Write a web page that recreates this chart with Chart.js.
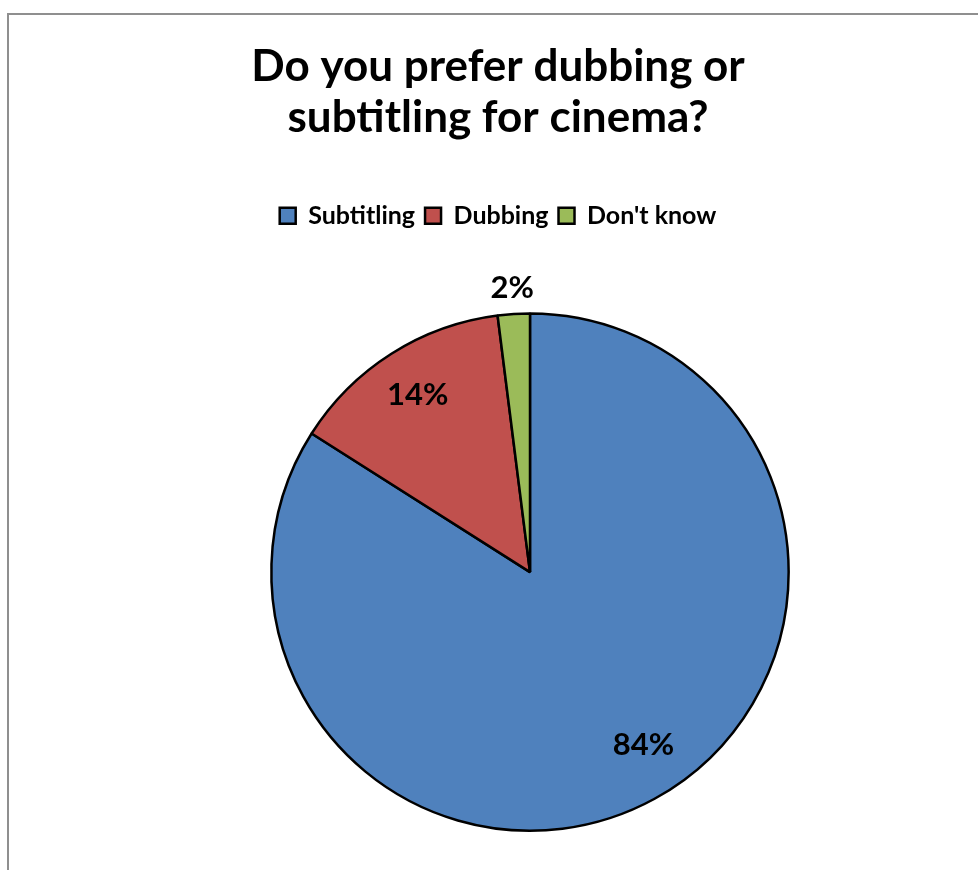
<!DOCTYPE html>
<html>
<head>
<meta charset="utf-8">
<title>Dubbing or subtitling</title>
<script src="https://cdn.jsdelivr.net/npm/chart.js@4.4.0/dist/chart.umd.min.js"></script>
<style>
    html, body { margin: 0; padding: 0; background: #fff; overflow: hidden; }
    .frame {
        position: absolute; left: 7px; top: 13px;
        width: 1000px; height: 900px;
        border: 2px solid #8f8f8f;
    }
    .wrap { position: absolute; left: 0; top: 0; width: 978px; height: 870px; }
</style>
</head>
<body>
<div class="frame"></div>
<div class="wrap"><canvas id="chart"></canvas></div>
<script>
var categories = ["Subtitling", "Dubbing", "Don't know"];
var shares = [84, 14, 2];
var colors = ["#4F81BD", "#C0504D", "#9BBB59"];
var titleLines = ["Do you prefer dubbing or", "subtitling for cinema?"];

var FONT = "Lato, 'Open Sans', sans-serif";

// moves the pie right / down inside the frame, away from title and legend
const pieArea = {
    id: 'pieArea',
    afterLayout(chart) {
        let a = chart.chartArea;
        a.left += 64;
        a.top += 74;
        a.width = a.right - a.left;
        a.height = a.bottom - a.top;
    }
};

// percentage labels; the small slice gets its label outside the pie
const sliceLabels = {
    id: 'sliceLabels',
    afterDatasetsDraw(chart, args, opts) {
        let ctx = chart.ctx;
        let meta = chart.getDatasetMeta(0);
        ctx.save();
        ctx.font = "bold 31px " + FONT;
        ctx.fillStyle = "#000";
        ctx.textAlign = "center";
        ctx.textBaseline = "middle";
        meta.data.forEach(function (arc, i) {
            let mid = (arc.startAngle + arc.endAngle) / 2 + opts.turn[i];
            let r = arc.outerRadius * opts.factors[i];
            ctx.fillText(shares[i] + "%", arc.x + Math.cos(mid) * r, arc.y + Math.sin(mid) * r);
        });
        ctx.restore();
    }
};

new Chart(document.getElementById("chart"), {
    type: 'pie',
    data: {
        labels: categories,
        datasets: [
            {
                data: shares,
                backgroundColor: colors,
                borderColor: "#000",
                borderWidth: 2.5
            }
        ]
    },
    options: {
        responsive: true,
        maintainAspectRatio: false,
        animation: false,
        layout: {
            padding: { left: 18, bottom: 38 }
        },
        plugins: {
            title: {
                display: true,
                text: titleLines,
                color: "#000",
                font: { family: FONT, size: 44, weight: 'bold', lineHeight: 1.15 },
                padding: { top: 42, bottom: 50 }
            },
            legend: {
                position: 'top',
                labels: {
                    color: "#000",
                    boxWidth: 16,
                    boxHeight: 16,
                    padding: 10,
                    font: { family: FONT, size: 25, weight: 'bold' }
                }
            },
            tooltip: { enabled: false },
            sliceLabels: { factors: [0.8, 0.81, 1.1], turn: [-0.078, 0, 0] }
        }
    },
    plugins: [pieArea, sliceLabels]
});
</script>
</body>
</html>
